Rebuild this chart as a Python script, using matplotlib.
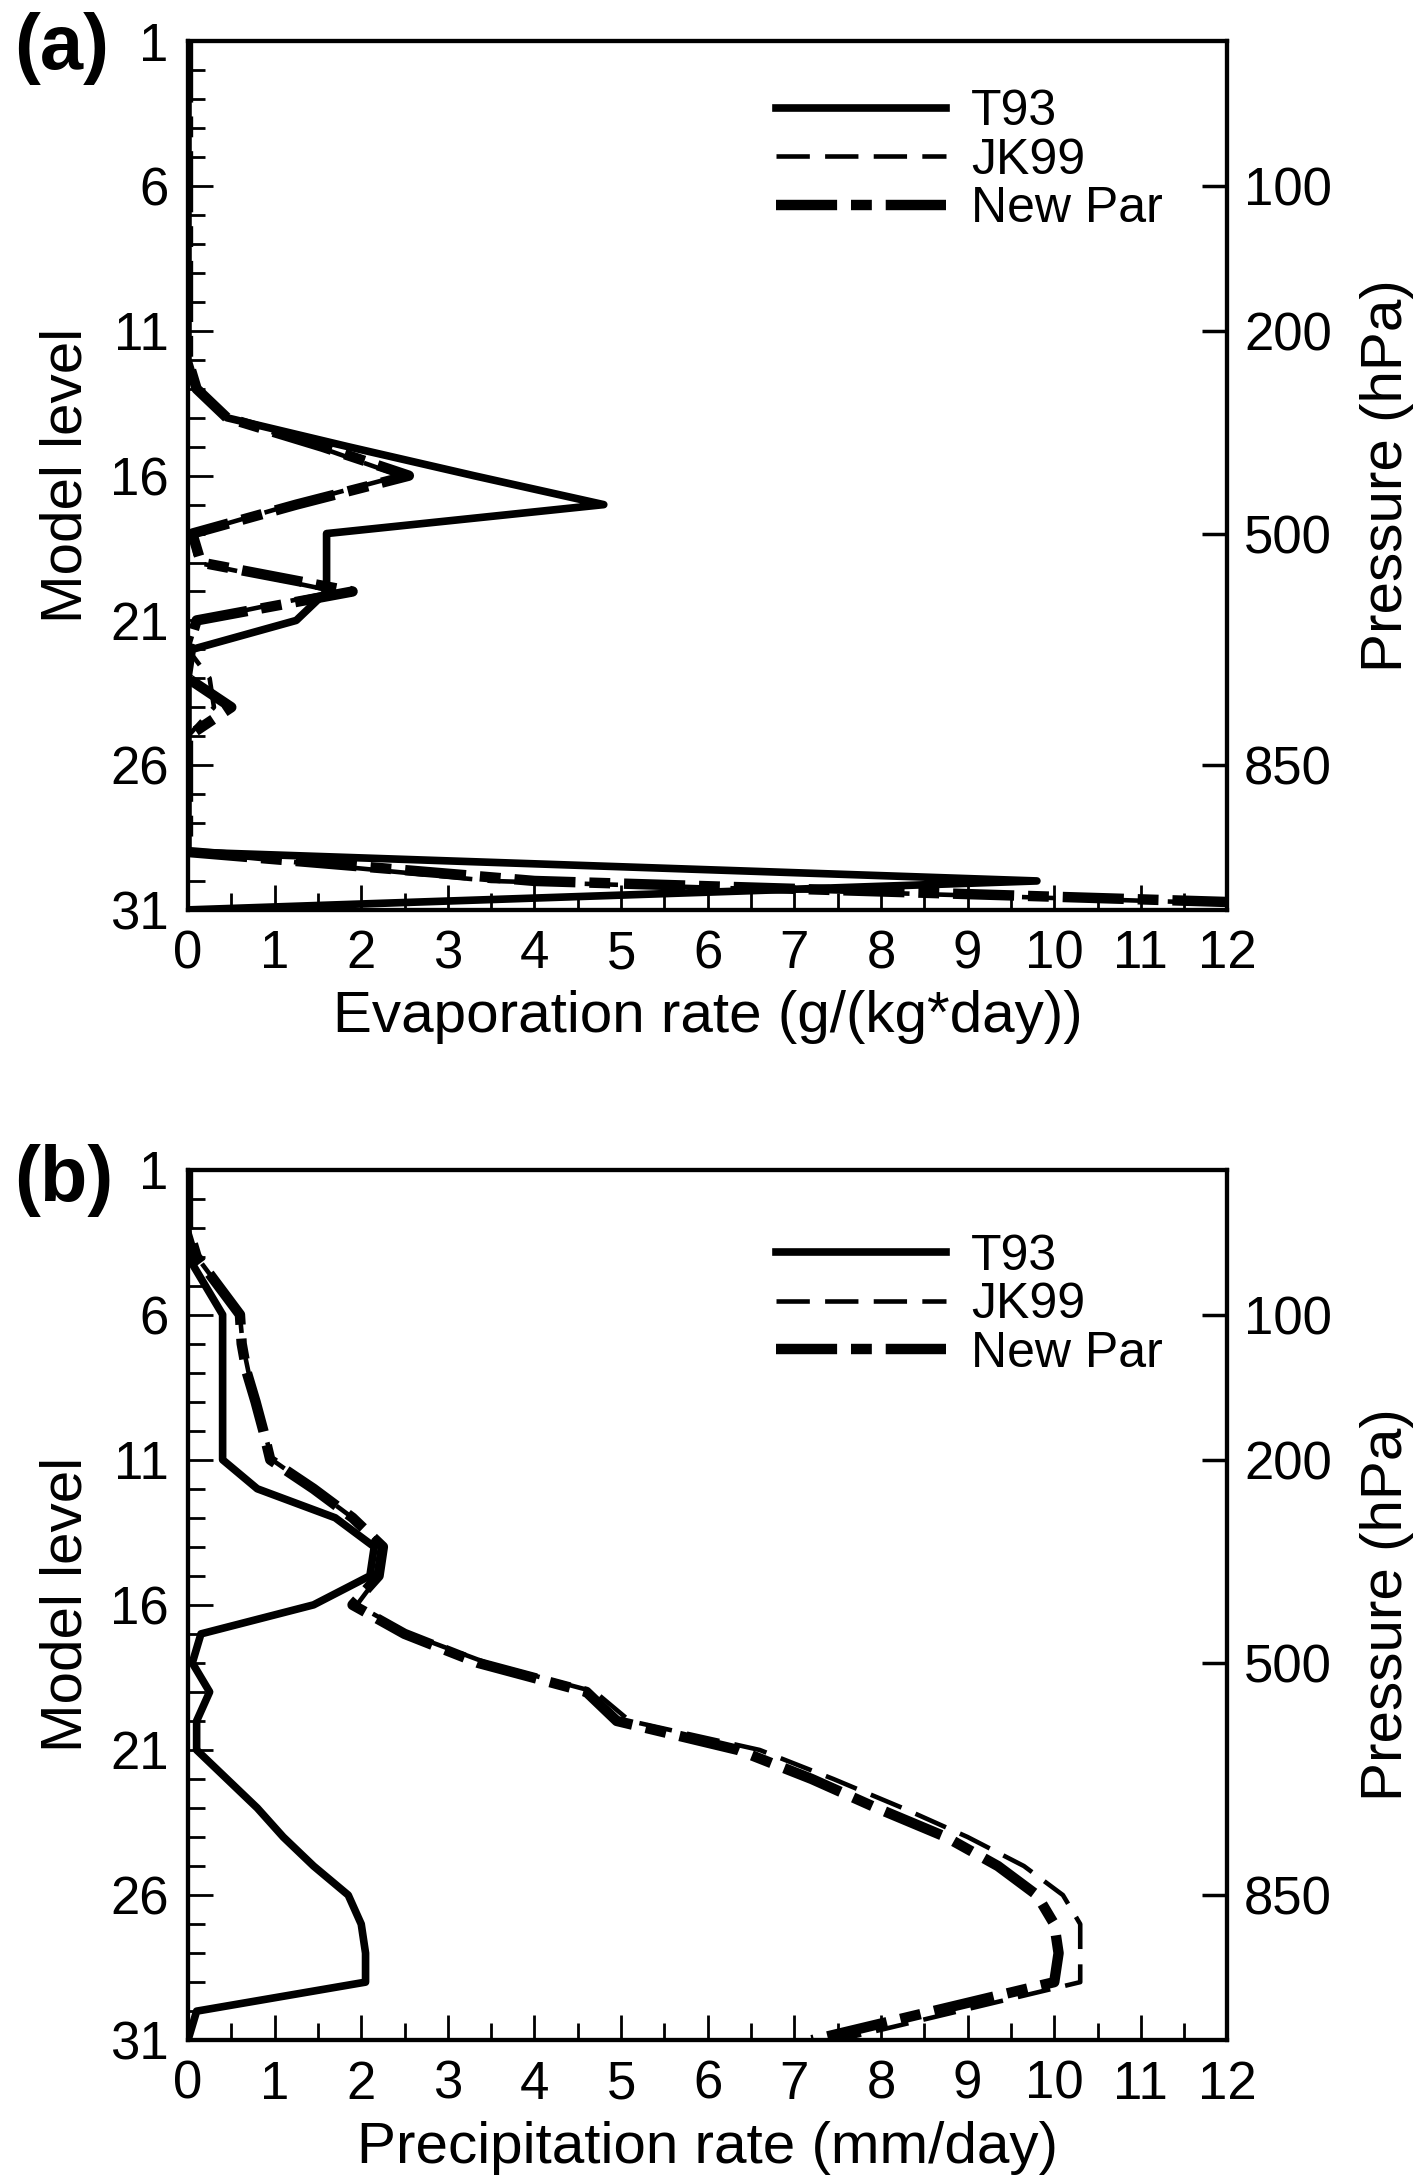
"""Vertical profiles of evaporation (a) and precipitation (b) rate per model level."""
import numpy as np
import matplotlib
matplotlib.use("Agg", force=True)
import matplotlib.pyplot as plt
from matplotlib.ticker import MultipleLocator

plt.rcParams["font.family"] = ["Liberation Sans", "DejaVu Sans"]
plt.rcParams["lines.scale_dashes"] = False

LEVELS = np.arange(1, 32)

# panel (a): evaporation rate, g/(kg*day), levels 1..31
T93_EVAP = [0, 0, 0, 0, 0, 0, 0, 0, 0, 0, 0, 0,
            0.1, 0.45, 1.85, 3.3, 4.8, 1.6, 1.6, 1.6, 1.25, 0.05,
            0, 0, 0, 0, 0, 0, 0, 9.8, 0]
JK99_EVAP = [0, 0, 0, 0, 0, 0, 0, 0, 0, 0, 0, 0,
             0.1, 0.45, 1.5, 2.45, 1.2, 0.05, 0.1, 1.7, 0.1, 0.0,
             0.25, 0.3, 0, 0, 0, 0, 0, 3.5, 14.5]
NEWPAR_EVAP = [0, 0, 0, 0, 0, 0, 0, 0, 0, 0, 0, 0,
               0.1, 0.45, 1.55, 2.55, 1.25, 0.05, 0.15, 1.9, 0.1, 0.0,
               0.0, 0.5, 0, 0, 0, 0, 0, 4.0, 15.0]

# panel (b): precipitation rate, mm/day, levels 1..31
T93_PREC = [0, 0, 0, 0, 0.2, 0.4, 0.4, 0.4, 0.4, 0.4, 0.4,
            0.8, 1.7, 2.15, 2.1, 1.45, 0.15, 0.05, 0.25, 0.1, 0.1,
            0.45, 0.8, 1.1, 1.45, 1.85, 2.0, 2.05, 2.05, 0.1, 0.0]
JK99_PREC = [0, 0, 0, 0.1, 0.35, 0.6, 0.63, 0.7, 0.8, 0.88, 0.97,
             1.45, 1.9, 2.25, 2.2, 1.95, 2.55, 3.45, 4.7, 5.1, 6.6,
             7.45, 8.25, 9.0, 9.65, 10.1, 10.3, 10.3, 10.3, 8.9, 7.5]
NEWPAR_PREC = [0, 0, 0, 0.1, 0.35, 0.6, 0.62, 0.68, 0.78, 0.87, 0.95,
               1.45, 1.9, 2.25, 2.2, 1.9, 2.5, 3.35, 4.6, 4.95, 6.35,
               7.2, 7.95, 8.75, 9.35, 9.8, 10.0, 10.05, 10.0, 8.6, 7.2]

LEFT_TICKS = [1, 6, 11, 16, 21, 26, 31]
PRESSURE_LEVELS = [6, 11, 18, 26]
PRESSURE_LABELS = ["100", "200", "500", "850"]

FS = 38      # tick labels
FS_LAB = 42  # axis labels


def draw_panel(ax, t93, jk99, newpar, xlabel, legend_y):
    ax.plot(t93, LEVELS, color="black", lw=5.5, label="T93")
    ax.plot(jk99, LEVELS, color="black", lw=3.3, dashes=(24, 11), label="JK99")
    ax.plot(newpar, LEVELS, color="black", lw=7.5, dashes=(44, 10, 15, 10),
            label="New Par")

    ax.set_xlim(0, 12)
    ax.set_ylim(31, 1)
    ax.xaxis.set_major_locator(MultipleLocator(1))
    ax.xaxis.set_minor_locator(MultipleLocator(0.5))
    ax.set_yticks(LEFT_TICKS)
    ax.yaxis.set_minor_locator(MultipleLocator(1))
    ax.tick_params(which="both", direction="in", top=False, right=False,
                   labelsize=FS, width=2)
    ax.tick_params(which="major", length=18)
    ax.tick_params(which="minor", length=12)
    ax.tick_params(axis="x", pad=14)
    ax.tick_params(axis="y", pad=14)
    for sp in ax.spines.values():
        sp.set_linewidth(3)

    ax.set_xlabel(xlabel, fontsize=FS_LAB, labelpad=8)
    ax.set_ylabel("Model level", fontsize=FS_LAB, labelpad=12)

    ax2 = ax.twinx()
    ax2.set_ylim(31, 1)
    ax2.set_yticks(PRESSURE_LEVELS)
    ax2.set_yticklabels(PRESSURE_LABELS)
    ax2.tick_params(direction="in", length=18, width=2.5, labelsize=FS, pad=12)
    ax2.set_ylabel("Pressure (hPa)", fontsize=FS_LAB, labelpad=20)
    for sp in ax2.spines.values():
        sp.set_linewidth(3)

    ax.legend(loc="upper left", bbox_to_anchor=(0.566, legend_y),
              frameon=False, borderpad=0, borderaxespad=0,
              handlelength=3.4, handletextpad=0.5, labelspacing=0.05,
              fontsize=36)


fig = plt.figure(figsize=(14.24, 21.82), dpi=100)
ax_a = fig.add_axes([0.132, 0.583, 0.730, 0.398])
ax_b = fig.add_axes([0.132, 0.065, 0.730, 0.399])

draw_panel(ax_a, T93_EVAP, JK99_EVAP, NEWPAR_EVAP,
           "Evaporation rate (g/(kg*day))", 0.945)
draw_panel(ax_b, T93_PREC, JK99_PREC, NEWPAR_PREC,
           "Precipitation rate (mm/day)", 0.926)

fig.text(0.010, 0.978, "(a)", fontsize=56, fontweight="bold", va="center")
fig.text(0.010, 0.459, "(b)", fontsize=56, fontweight="bold", va="center")

fig.savefig("out.png", dpi=100)
